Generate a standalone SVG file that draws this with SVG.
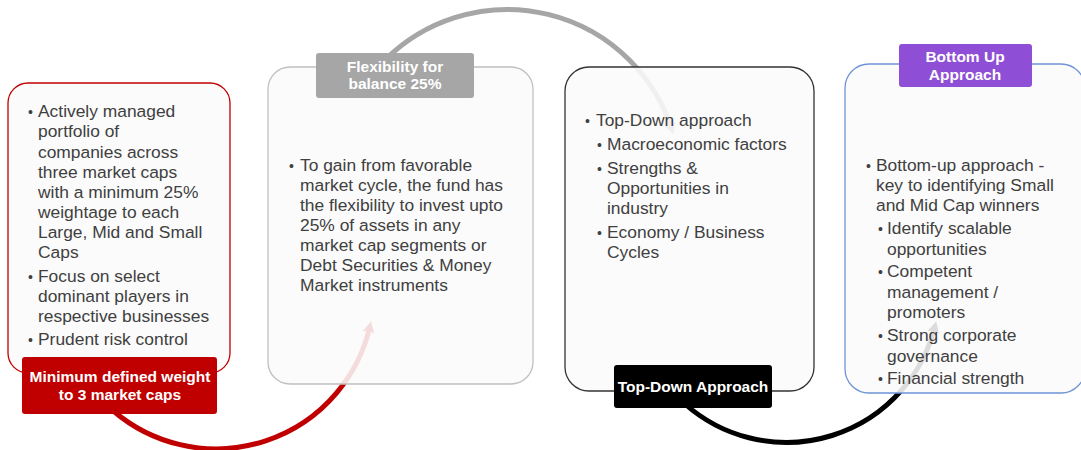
<svg xmlns="http://www.w3.org/2000/svg" width="1081" height="450" viewBox="0 0 1081 450">
<style>
.box{fill:#fafafa;fill-opacity:0.88;stroke-width:1.3}
.t{font-family:"Liberation Sans",Arial,sans-serif;font-size:17.4px;fill:#404040}
.b{font-size:14px}
.lb{font-family:"Liberation Sans",Arial,sans-serif;font-size:15.5px;font-weight:bold;fill:#ffffff;text-anchor:middle}
.arc{fill:none;stroke-width:5}
</style>
<defs>
<marker id="mr" markerWidth="14" markerHeight="14" refX="7" refY="7" orient="auto" markerUnits="userSpaceOnUse"><path d="M0,1 L12,7 L0,13 L3,7 Z" fill="#c00000"/></marker>
<marker id="mg" markerWidth="14" markerHeight="14" refX="7" refY="7" orient="auto" markerUnits="userSpaceOnUse"><path d="M0,1 L12,7 L0,13 L3,7 Z" fill="#a6a6a6"/></marker>
<marker id="mb" markerWidth="14" markerHeight="14" refX="7" refY="7" orient="auto" markerUnits="userSpaceOnUse"><path d="M0,1 L12,7 L0,13 L3,7 Z" fill="#000000"/></marker>
</defs>
<g id="connectors">
<path class="arc" stroke="#c00000" d="M113.4,411 A158,158 0 0,0 370,326" marker-end="url(#mr)"/>
<path class="arc" stroke="#a6a6a6" d="M385,60 A173,173 0 0,1 672,130" marker-end="url(#mg)"/>
<path class="arc" stroke="#000000" d="M685,404 A153,153 0 0,0 935,326" marker-end="url(#mb)"/>
</g>
<g id="node-min">
<rect class="box" x="8" y="83" width="222" height="290" rx="20" stroke="#c00000"/>
<g class="t">
<text class="b" x="28" y="117">•</text>
<text x="38" y="117">Actively managed</text>
<text x="38" y="137">portfolio of</text>
<text x="38" y="158">companies across</text>
<text x="38" y="178">three market caps</text>
<text x="38" y="198">with a minimum 25%</text>
<text x="38" y="218">weightage to each</text>
<text x="38" y="238">Large, Mid and Small</text>
<text x="38" y="258">Caps</text>
<text class="b" x="28" y="282">•</text>
<text x="38" y="282">Focus on select</text>
<text x="38" y="302">dominant players in</text>
<text x="38" y="322">respective businesses</text>
<text class="b" x="28" y="345">•</text>
<text x="38" y="345">Prudent risk control</text>
</g>
<rect x="22" y="357" width="195" height="57" rx="3" fill="#c00000"/>
<text class="lb" x="120" y="382">Minimum defined weight</text>
<text class="lb" x="120" y="400">to 3 market caps</text>
</g>
<g id="node-flex">
<rect class="box" x="268" y="67" width="265" height="317" rx="22" stroke="#c0c0c0"/>
<g class="t">
<text class="b" x="289" y="171">•</text>
<text x="300" y="171">To gain from favorable</text>
<text x="300" y="191">market cycle, the fund has</text>
<text x="300" y="211">the flexibility to invest upto</text>
<text x="300" y="231">25% of assets in any</text>
<text x="300" y="251">market cap segments or</text>
<text x="300" y="271">Debt Securities &amp; Money</text>
<text x="300" y="291">Market instruments</text>
</g>
<rect x="316" y="53" width="158" height="45" rx="3" fill="#a6a6a6"/>
<text class="lb" x="395" y="72">Flexibility for</text>
<text class="lb" x="395" y="89">balance 25%</text>
</g>
<g id="node-topdown">
<rect class="box" x="565" y="67" width="249" height="324" rx="24" stroke="#333333"/>
<g class="t">
<text class="b" x="585" y="126">•</text>
<text x="596" y="126">Top-Down approach</text>
<text class="b" x="597" y="150">•</text>
<text x="607" y="150">Macroeconomic factors</text>
<text class="b" x="597" y="174">•</text>
<text x="607" y="174">Strengths &amp;</text>
<text x="607" y="194">Opportunities in</text>
<text x="607" y="214">industry</text>
<text class="b" x="597" y="238">•</text>
<text x="607" y="238">Economy / Business</text>
<text x="607" y="258">Cycles</text>
</g>
<rect x="614" y="365" width="158" height="43" rx="3" fill="#000000"/>
<text class="lb" x="693" y="392">Top-Down Approach</text>
</g>
<g id="node-bottomup">
<rect class="box" x="845" y="64" width="240" height="329" rx="24" stroke="#6f94d6"/>
<g class="t">
<text class="b" x="866" y="171">•</text>
<text x="876" y="171">Bottom-up approach -</text>
<text x="876" y="191">key to identifying Small</text>
<text x="876" y="211">and Mid Cap winners</text>
<text class="b" x="878" y="234">•</text>
<text x="887" y="234">Identify scalable</text>
<text x="887" y="255">opportunities</text>
<text class="b" x="878" y="277">•</text>
<text x="887" y="277">Competent</text>
<text x="887" y="298">management /</text>
<text x="887" y="318">promoters</text>
<text class="b" x="878" y="341">•</text>
<text x="887" y="341">Strong corporate</text>
<text x="887" y="362">governance</text>
<text class="b" x="878" y="384">•</text>
<text x="887" y="384">Financial strength</text>
</g>
<rect x="899" y="44" width="133" height="43" rx="3" fill="#8e4fd6"/>
<text class="lb" x="965" y="62">Bottom Up</text>
<text class="lb" x="965" y="80">Approach</text>
</g>
</svg>
